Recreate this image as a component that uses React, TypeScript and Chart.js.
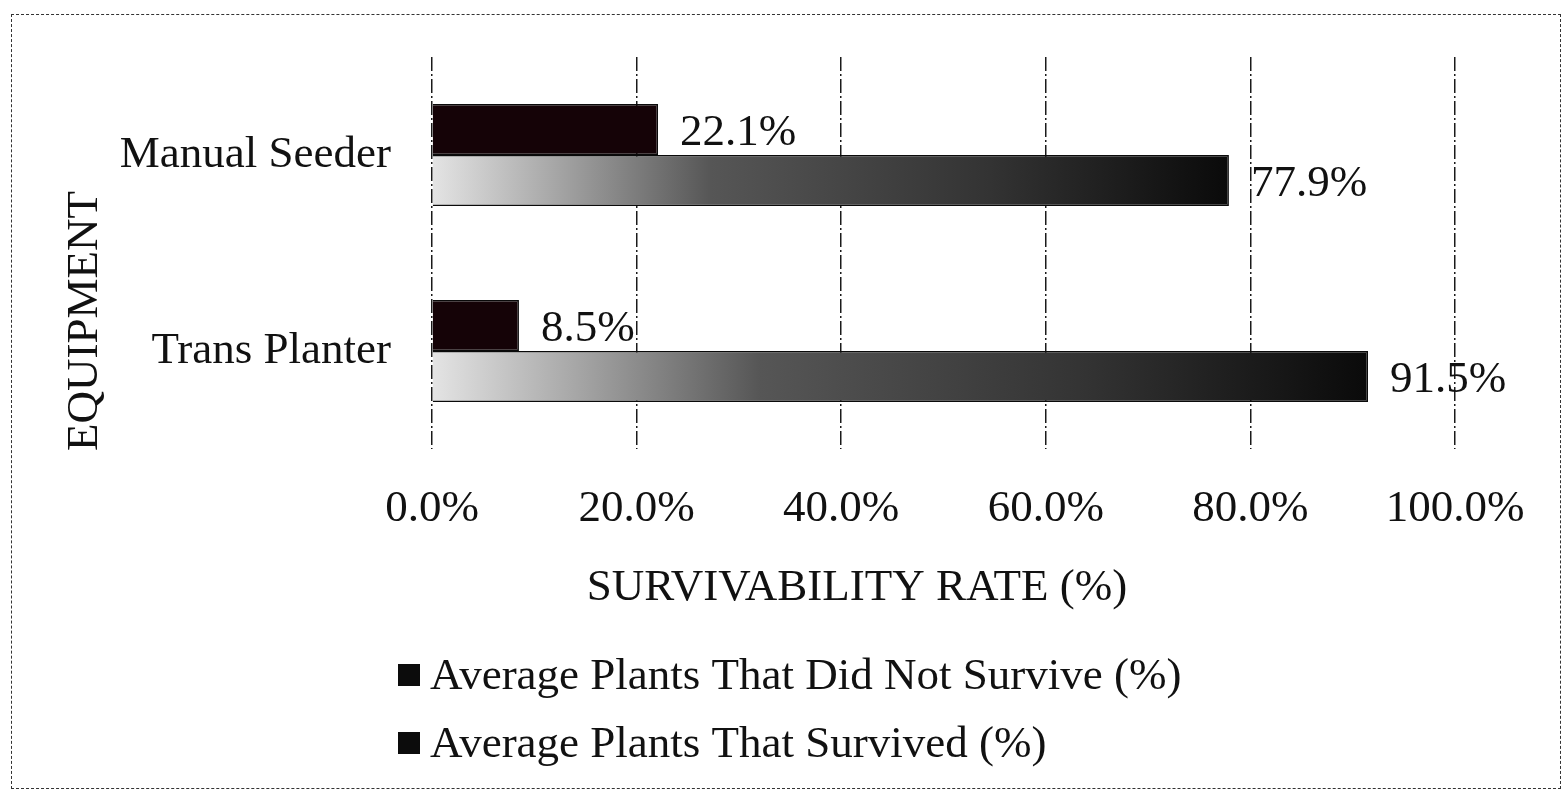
import React, { useEffect, useRef } from "react";
import { Chart, registerables } from "chart.js";

Chart.register(...registerables);

const categories = ["Manual Seeder", "Trans Planter"];
const notSurvived = [22.1, 8.5];
const survived = [77.9, 91.5];
const seriesLabels = [
  "Average Plants That Did Not Survive (%)",
  "Average Plants That Survived (%)",
];
const xMin = 0;
const xMax = 100;
const xStep = 20;
const xTitle = "SURVIVABILITY RATE (%)";
const yTitle = "EQUIPMENT";

const FONT = "'Liberation Serif', 'Times New Roman', serif";
const FS = 45;
const INK = "#111111";

const valueLabelPlugin = {
  id: "valueLabels",
  afterDatasetsDraw(chart: any) {
    const ctx = chart.ctx;
    ctx.save();
    ctx.font = `${FS}px ${FONT}`;
    ctx.fillStyle = INK;
    ctx.textAlign = "left";
    ctx.textBaseline = "middle";
    chart.data.datasets.forEach((ds: any, di: number) => {
      const meta = chart.getDatasetMeta(di);
      meta.data.forEach((bar: any, i: number) => {
        const v = ds.data[i] as number;
        ctx.fillText(v.toFixed(1) + "%", bar.x + 22, bar.y + 4);
      });
    });
    ctx.restore();
  },
};

const titlesAndLegendPlugin = {
  id: "titlesLegend",
  afterDraw(chart: any) {
    const ctx = chart.ctx;
    ctx.save();
    ctx.font = `${FS}px ${FONT}`;
    ctx.fillStyle = INK;
    ctx.textBaseline = "middle";
    ctx.textAlign = "center";
    ctx.fillText(xTitle, 857, 588);
    ctx.save();
    ctx.translate(85, 321);
    ctx.rotate(-Math.PI / 2);
    ctx.fillText(yTitle, 0, 0);
    ctx.restore();
    ctx.textAlign = "left";
    const rows = [675, 743];
    chart.data.datasets.forEach((ds: any, i: number) => {
      const y = rows[i];
      ctx.fillStyle = "#0c0c0c";
      ctx.fillRect(398, y - 11, 22, 22);
      ctx.fillStyle = INK;
      ctx.fillText(ds.label, 430, y + 2);
    });
    ctx.restore();
  },
};

function survivedFill(context: any) {
  const chart = context.chart;
  const area = chart.chartArea;
  if (!area) return "#555";
  const xs = chart.scales.x;
  const v = context.raw as number;
  const x0 = xs.getPixelForValue(0);
  const x1 = xs.getPixelForValue(v);
  const g = chart.ctx.createLinearGradient(x0, 0, x1, 0);
  g.addColorStop(0, "#e4e4e4");
  g.addColorStop(0.15, "#a8a8a8");
  g.addColorStop(0.35, "#565656");
  g.addColorStop(0.7, "#333333");
  g.addColorStop(1, "#0a0a0a");
  return g;
}

export default function App() {
  const ref = useRef<HTMLCanvasElement | null>(null);

  useEffect(() => {
    if (!ref.current) return;
    const chart = new Chart(ref.current, {
      type: "bar",
      data: {
        labels: categories,
        datasets: [
          {
            label: seriesLabels[0],
            data: notSurvived,
            backgroundColor: "#150307",
            borderColor: "#0a0a0a",
            borderWidth: 1.5,
            categoryPercentage: 0.52,
            barPercentage: 1.0,
          },
          {
            label: seriesLabels[1],
            data: survived,
            backgroundColor: survivedFill as any,
            borderColor: "#0a0a0a",
            borderWidth: 1.5,
            categoryPercentage: 0.52,
            barPercentage: 1.0,
          },
        ],
      },
      options: {
        indexAxis: "y",
        responsive: false,
        animation: false,
        layout: { padding: { top: 57, right: 112, bottom: 166, left: 58 } },
        plugins: {
          legend: { display: false },
          tooltip: { enabled: false },
        },
        scales: {
          x: {
            min: xMin,
            max: xMax,
            afterFit(scale: any) {
              scale.height = 180;
            },
            ticks: {
              stepSize: xStep,
              color: INK,
              font: { family: FONT, size: FS },
              padding: 33,
              callback: (v: any) => Number(v).toFixed(1) + "%",
            },
            grid: {
              display: true,
              color: "#1a1a1a",
              lineWidth: 1.5,
              drawTicks: false,
            },
            border: { display: false, dash: [14, 3, 2, 3] },
            title: { display: false },
          },
          y: {
            afterFit(scale: any) {
              scale.width = 374;
              scale.paddingTop = 0;
              scale.paddingBottom = 0;
            },
            ticks: {
              color: INK,
              font: { family: FONT, size: FS, lineHeight: 1 },
              padding: 41,
            },
            grid: { display: false, drawTicks: false },
            border: { display: false },
            title: { display: false },
          },
        },
      },
      plugins: [valueLabelPlugin, titlesAndLegendPlugin],
    } as any);
    return () => chart.destroy();
  }, []);

  return (
    <div
      style={{
        position: "fixed",
        left: 0,
        top: 0,
        width: 1567,
        height: 795,
        background: "#ffffff",
      }}
    >
      <div
        style={{
          position: "absolute",
          left: 11,
          top: 14,
          width: 1550,
          height: 775,
          border: "1.5px dashed #333",
          boxSizing: "border-box",
        }}
      />
      <canvas
        ref={ref}
        width={1567}
        height={795}
        style={{ position: "absolute", left: 0, top: 0 }}
      />
    </div>
  );
}
